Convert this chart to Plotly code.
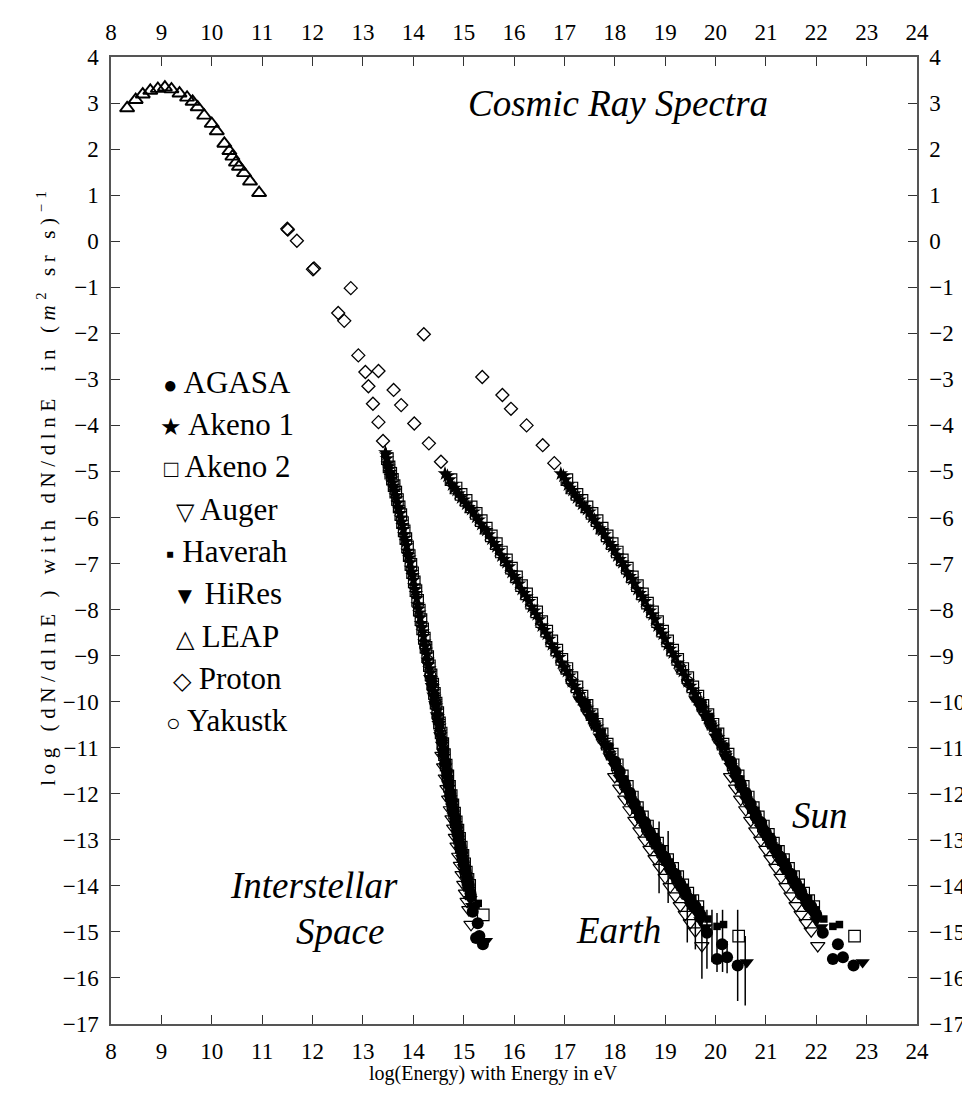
import plotly.graph_objects as go

# ---------------- data: Earth branch (log10 E in eV, log10 dN/dlnE) ----------------
AGASA_X = [18.0, 18.1, 18.2, 18.3, 18.4, 18.5, 18.6, 18.7, 18.8, 18.9, 19.0, 19.1, 19.2, 19.3, 19.4, 19.5, 19.6, 19.7,
           19.83, 20.03, 20.13, 20.23, 20.44]
AGASA_Y = [-11.30, -11.52, -11.78, -11.98, -12.22, -12.45, -12.62, -12.84, -13.00, -13.20, -13.38, -13.58, -13.74,
           -13.95, -14.12, -14.30, -14.44, -14.62, -15.02, -15.59, -15.27, -15.55, -15.73]

AKENO1_X = [14.63, 14.68, 14.72, 14.77, 14.81, 14.86, 14.90, 14.95, 15.00, 15.05, 15.10, 15.15, 15.20, 15.25,
            15.30, 15.35, 15.40, 15.45, 15.50, 15.55, 15.60, 15.65, 15.70, 15.75, 15.80, 15.85, 15.90, 15.95,
            16.00, 16.05, 16.10, 16.15, 16.20, 16.25, 16.30, 16.35, 16.40, 16.45, 16.50, 16.55, 16.60, 16.65,
            16.70, 16.75, 16.80, 16.85, 16.90, 16.95, 17.00, 17.05, 17.10, 17.15, 17.20, 17.25, 17.30, 17.35,
            17.40, 17.45, 17.50, 17.55, 17.60, 17.65, 17.70, 17.75, 17.80, 17.85, 17.90]
AKENO1_Y = [-5.05, -5.10, -5.18, -5.29, -5.36, -5.41, -5.48, -5.57, -5.62, -5.71, -5.78, -5.82, -5.88, -5.99,
            -6.05, -6.15, -6.24, -6.28, -6.37, -6.47, -6.56, -6.63, -6.72, -6.83, -6.91, -6.98, -7.07, -7.19,
            -7.28, -7.34, -7.44, -7.56, -7.65, -7.72, -7.82, -7.94, -8.03, -8.11, -8.22, -8.35, -8.45, -8.53,
            -8.64, -8.76, -8.86, -8.94, -9.04, -9.16, -9.26, -9.34, -9.44, -9.56, -9.66, -9.74, -9.84, -9.96,
            -10.06, -10.14, -10.24, -10.36, -10.46, -10.55, -10.66, -10.78, -10.89, -10.99, -11.12]

AKENO2_X = [14.75, 14.85, 14.95, 15.05, 15.15, 15.25, 15.35, 15.45, 15.55, 15.65, 15.75, 15.85, 15.95,
            16.05, 16.15, 16.25, 16.35, 16.45, 16.55, 16.65, 16.75, 16.85, 16.95, 17.05, 17.15, 17.25, 17.35,
            17.45, 17.55, 17.65, 17.75, 17.85, 17.95, 18.05, 18.15, 18.25, 18.35, 18.45, 18.55, 18.65, 18.75,
            18.85, 18.95, 19.05, 19.15, 19.25, 19.35, 19.45, 19.55, 19.65, 20.46]
AKENO2_Y = [-5.18, -5.36, -5.50, -5.63, -5.77, -5.91, -6.07, -6.23, -6.40, -6.57, -6.75, -6.92, -7.10,
            -7.29, -7.48, -7.66, -7.86, -8.05, -8.26, -8.47, -8.68, -8.88, -9.08, -9.28, -9.48, -9.68, -9.88,
            -10.08, -10.28, -10.49, -10.70, -10.92, -11.14, -11.37, -11.61, -11.84, -12.07, -12.30, -12.50,
            -12.70, -12.88, -13.07, -13.25, -13.43, -13.62, -13.80, -13.98, -14.16, -14.32, -14.45, -15.09]

AUGER_X = [18.0, 18.1, 18.2, 18.3, 18.4, 18.5, 18.6, 18.7, 18.8, 18.9, 19.0, 19.1, 19.2, 19.3, 19.4, 19.5, 19.6, 19.73]
AUGER_Y = [-11.63, -11.88, -12.12, -12.35, -12.58, -12.81, -13.01, -13.21, -13.41, -13.60, -13.82, -14.02,
           -14.22, -14.43, -14.62, -14.80, -14.98, -15.30]

HAVERAH_X = [17.45, 17.60, 17.75, 17.90, 18.05, 18.20, 18.35, 18.50, 18.65, 18.80, 18.95, 19.10, 19.25, 19.40,
             19.55, 19.70, 19.85, 20.03, 20.16]
HAVERAH_Y = [-10.03, -10.32, -10.66, -10.97, -11.33, -11.68, -12.03, -12.36, -12.65, -12.93, -13.21, -13.48,
             -13.76, -14.03, -14.28, -14.52, -14.72, -14.88, -14.84]

HIRES_X = [17.3, 17.4, 17.5, 17.6, 17.7, 17.8, 17.9, 18.0, 18.1, 18.2, 18.3, 18.4, 18.5, 18.6, 18.7, 18.8, 18.9,
           19.0, 19.1, 19.2, 19.3, 19.4, 19.5, 19.6, 19.7, 19.8, 20.62]
HIRES_Y = [-9.95, -10.12, -10.33, -10.52, -10.76, -10.95, -11.19, -11.40, -11.66, -11.87, -12.12, -12.33, -12.56,
           -12.74, -12.95, -13.12, -13.31, -13.50, -13.68, -13.86, -14.06, -14.22, -14.42, -14.55, -14.75, -14.90,
           -15.66]

YAKUTSK_X = [17.00, 17.15, 17.30, 17.45, 17.60, 17.75, 17.90, 18.05, 18.20, 18.35, 18.50, 18.65, 18.80, 18.95,
             19.10, 19.25, 19.40, 19.55]
YAKUTSK_Y = [-9.27, -9.57, -9.88, -10.17, -10.48, -10.80, -11.13, -11.47, -11.83, -12.17, -12.50, -12.79, -13.08,
             -13.35, -13.63, -13.90, -14.18, -14.43]

# error bars (Earth branch): x, upper end, lower end
ERR_X = [18.88, 19.06, 19.44, 19.60, 19.73, 19.83, 19.93, 20.03, 20.14, 20.23, 20.44, 20.59]
ERR_HI = [-12.60, -12.81, -14.37, -14.52, -14.52, -14.52, -14.52, -14.59, -14.52, -15.20, -14.52, -15.09]
ERR_LO = [-14.16, -14.37, -15.23, -15.38, -16.02, -15.80, -15.66, -15.87, -15.87, -15.90, -16.50, -16.60]

LEAP_X = [8.32, 8.49, 8.63, 8.78, 8.93, 9.07, 9.20, 9.36, 9.51, 9.62, 9.72, 9.85, 10.00, 10.10, 10.25, 10.35,
          10.41, 10.48, 10.54, 10.64, 10.76, 10.94]
LEAP_Y = [2.89, 3.07, 3.19, 3.27, 3.31, 3.34, 3.30, 3.21, 3.12, 3.03, 2.91, 2.73, 2.55, 2.39, 2.12, 1.96,
          1.84, 1.71, 1.62, 1.48, 1.30, 1.05]

PROTON_IS_X = [11.50, 11.51, 11.69, 12.01, 12.03, 12.51, 12.63, 12.91, 13.05, 13.11, 13.20, 13.31, 13.40]
PROTON_IS_Y = [0.27, 0.25, 0.01, -0.61, -0.59, -1.56, -1.73, -2.48, -2.84, -3.15, -3.53, -3.93, -4.34]
PROTON_EARTH_X = [12.76, 13.31, 13.61, 13.76, 14.02, 14.31, 14.55]
PROTON_EARTH_Y = [-1.02, -2.82, -3.23, -3.56, -3.96, -4.39, -4.79]
PROTON_SUN_X = [14.21, 15.37, 15.77, 15.94, 16.25, 16.57, 16.80]
PROTON_SUN_Y = [-2.02, -2.95, -3.34, -3.64, -4.00, -4.43, -4.82]

# the same air-shower data re-plotted for "Interstellar Space" and "Sun"
IS_X_SCALE = 1.0 / 3.0
IS_X_SHIFT = 8.57
IS_Y_SHIFT = 0.46
SUN_X_SHIFT = 2.30
SUN_Y_SHIFT = 0.0

LEGEND = [("●", "AGASA"), ("★", "Akeno 1"), ("□", "Akeno 2"), ("▽", "Auger"), ("▪", "Haverah"),
          ("▼", "HiRes"), ("△", "LEAP"), ("◇", "Proton"), ("○", "Yakustk")]

FONT = "Liberation Serif, Times New Roman, serif"
BLACK = "#000000"


def three_branches(xs, ys):
    bx = list(xs) + [x * IS_X_SCALE + IS_X_SHIFT for x in xs] + [x + SUN_X_SHIFT for x in xs]
    by = list(ys) + [y + IS_Y_SHIFT for y in ys] + [y + SUN_Y_SHIFT for y in ys]
    return bx, by


fig = go.Figure()

ex, ey = [], []
for x, hi, lo in zip(ERR_X, ERR_HI, ERR_LO):
    ex += [x, x, None]
    ey += [hi, lo, None]


def add(xs, ys, symbol, size, filled, lw=1.2, **kw):
    fig.add_trace(go.Scatter(
        x=xs, y=ys, mode="markers", showlegend=False, hoverinfo="skip",
        marker=dict(symbol=symbol, size=size, color=BLACK,
                    line=dict(color=BLACK, width=0 if filled else lw)), **kw))


bx, by = three_branches(AKENO2_X, AKENO2_Y)
add(bx, by, "square-open", 11.5, False)
bx, by = three_branches(AKENO1_X, AKENO1_Y)
add(bx, by, "star", 11, True)
bx, by = three_branches(YAKUTSK_X, YAKUTSK_Y)
add(bx, by, "circle-open", 11, False)
bx, by = three_branches(AUGER_X, AUGER_Y)
add(bx, by, "triangle-down-open", 12.5, False)
bx, by = three_branches(HIRES_X, HIRES_Y)
add(bx, by, "triangle-down", 12.5, True)
bx, by = three_branches(HAVERAH_X, HAVERAH_Y)
add(bx, by, "square", 7.5, True)
bx, by = three_branches(AGASA_X, AGASA_Y)
add(bx, by, "circle", 12, True)

fig.add_trace(go.Scatter(x=ex, y=ey, mode="lines", showlegend=False, hoverinfo="skip",
                         line=dict(color=BLACK, width=1.5)))

add(PROTON_IS_X + PROTON_EARTH_X + PROTON_SUN_X, PROTON_IS_Y + PROTON_EARTH_Y + PROTON_SUN_Y,
    "diamond-open", 10, False, lw=1.3)
add(LEAP_X, LEAP_Y, "triangle-up-open", 12.5, False, lw=1.9, xaxis="x2", yaxis="y2")

ann = []
ital = dict(family=FONT, size=37, color=BLACK)
ann.append(dict(x=18.06, y=3.0, text="<i>Cosmic Ray Spectra</i>", font=ital))
ann.append(dict(x=12.03, y=-14.0, text="<i>Interstellar</i>", font=ital))
ann.append(dict(x=12.55, y=-15.0, text="<i>Space</i>", font=ital))
ann.append(dict(x=18.08, y=-14.98, text="<i>Earth</i>", font=ital))
ann.append(dict(x=22.07, y=-12.48, text="<i>Sun</i>", font=ital))

leg_y0, leg_dy = -3.06, 0.919
for i, (sym, name) in enumerate(LEGEND):
    ann.append(dict(x=10.31, y=leg_y0 - i * leg_dy,
                    text="<span style='font-size:24px'>" + sym + "</span> " + name,
                    font=dict(family=FONT, size=31, color=BLACK)))

for a in ann:
    a.update(xref="x", yref="y", showarrow=False, xanchor="center", yanchor="middle")

ann.append(dict(xref="paper", yref="paper", x=0.474, y=-0.051, showarrow=False,
                text="log(Energy) with Energy in eV", font=dict(family=FONT, size=20, color=BLACK),
                xanchor="center", yanchor="middle"))
ann.append(dict(xref="paper", yref="paper", x=-0.08, y=0.556, showarrow=False, textangle=-90,
                text="<span style='letter-spacing:5.6px'>log (dN/dlnE ) with dN/dlnE  in "
                     "(<i>m</i><sup>2</sup> sr s)<sup>−1</sup></span>",
                font=dict(family=FONT, size=21, color=BLACK), xanchor="center", yanchor="middle"))

axis_common = dict(showgrid=False, zeroline=False, showline=True, linecolor="#555555", linewidth=1.5,
                   ticks="inside", ticklen=9, tickwidth=1.3, tickcolor="#333333",
                   tickfont=dict(family=FONT, size=23, color=BLACK), dtick=1, ticklabelstandoff=6)

fig.update_layout(
    width=970, height=1095,
    margin=dict(l=103, r=57, t=36, b=79),
    paper_bgcolor="white", plot_bgcolor="white",
    xaxis=dict(range=[8, 24], tick0=8, side="bottom", **axis_common),
    yaxis=dict(range=[-17, 4], tick0=4, side="left", **axis_common),
    xaxis2=dict(range=[8, 24], tick0=8, side="top", overlaying="x", anchor="y", **axis_common),
    yaxis2=dict(range=[-17, 4], tick0=4, side="right", overlaying="y", anchor="x", **axis_common),
    annotations=ann,
    showlegend=False,
)

fig.write_html("out.html")
